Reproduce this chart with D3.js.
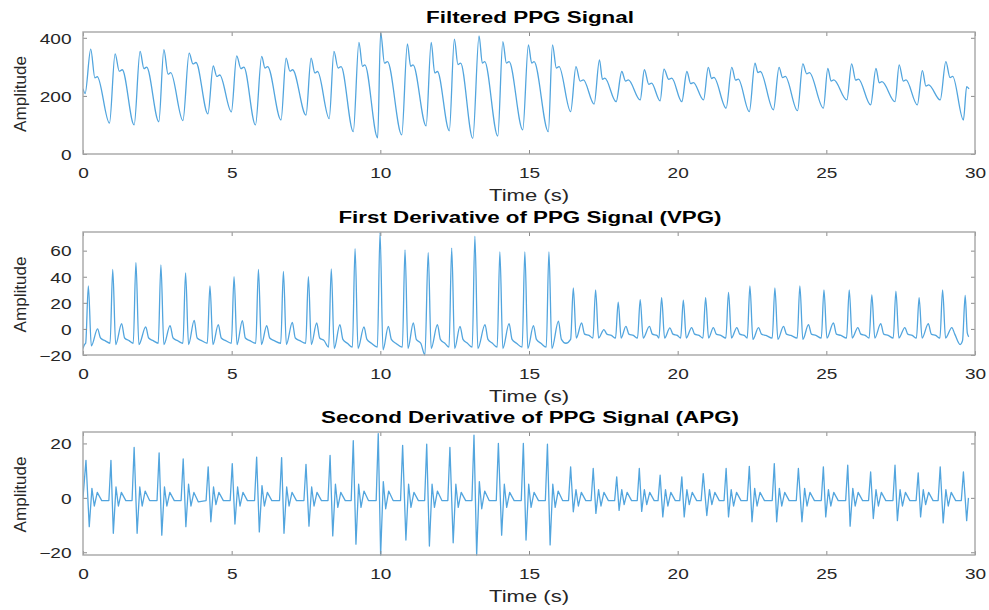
<!DOCTYPE html>
<html><head><meta charset="utf-8">
<script src="https://cdn.jsdelivr.net/npm/d3@7"></script>
<style>body{margin:0;background:#fff}</style>
</head><body>
<svg id="c" width="989" height="610"></svg>
<script>
const xTicks = [0, 5, 10, 15, 20, 25, 30];
const ppgTicks = [0, 200, 400];
const vpgTicks = [-20, 0, 20, 40, 60];
const apgTicks = [-20, 0, 20];
const titles = ["Filtered PPG Signal", "First Derivative of PPG Signal (VPG)", "Second Derivative of PPG Signal (APG)"];
const xLabel = "Time (s)";
const yLabel = "Amplitude";

// Filtered PPG: [time s, amplitude]
const ppg = [[0,225],[0.07,208],
[0.26,361],[0.40,262],[0.48,266],[0.89,106],
[1.08,345],[1.22,285],[1.32,290],[1.72,100],
[1.92,353],[2.05,294],[2.14,299],[2.55,111],
[2.72,359],[2.86,275],[2.95,280],[3.36,115],
[3.57,347],[3.70,310],[3.80,315],[4.20,138],
[4.38,303],[4.50,267],[4.60,272],[4.99,145],
[5.17,338],[5.31,294],[5.41,299],[5.80,100],
[6.01,336],[6.12,296],[6.21,301],[6.66,117],
[6.83,330],[6.96,285],[7.05,290],[7.50,134],
[7.67,330],[7.80,279],[7.89,284],[8.28,122],
[8.44,353],[8.58,296],[8.68,301],[9.09,77],
[9.28,384],[9.40,302],[9.48,307],[9.91,56],
[10.01,418],[10.14,313],[10.24,318],[10.72,66],
[10.91,379],[11.02,302],[11.10,307],[11.54,97],
[11.71,384],[11.83,279],[11.92,284],[12.32,80],
[12.49,395],[12.61,308],[12.70,313],[13.11,54],
[13.32,407],[13.43,313],[13.51,318],[13.95,62],
[14.12,387],[14.24,313],[14.33,318],[14.79,83],
[14.98,376],[15.09,313],[15.17,318],[15.65,77],
[15.79,376],[15.92,296],[16.01,301],[16.40,146],
[16.58,301],[16.72,251],[16.83,255],[17.19,172],
[17.37,324],[17.47,257],[17.55,261],[17.93,180],
[18.12,284],[18.25,251],[18.34,255],[18.74,186],
[18.88,290],[19.03,240],[19.12,244],[19.41,183],
[19.54,292],[19.70,257],[19.80,261],[20.14,180],
[20.31,284],[20.44,242],[20.53,246],[20.87,186],
[21.03,298],[21.14,260],[21.22,264],[21.63,158],
[21.82,298],[21.95,254],[22.04,258],[22.41,146],
[22.60,313],[22.70,280],[22.78,284],[23.22,152],
[23.41,298],[23.53,263],[23.62,267],[24.03,149],
[24.21,310],[24.34,276],[24.43,280],[24.90,158],
[25.05,295],[25.16,251],[25.25,255],[25.69,186],
[25.85,310],[25.99,254],[26.08,258],[26.49,169],
[26.67,295],[26.78,245],[26.87,249],[27.31,180],
[27.45,307],[27.59,251],[27.68,255],[28.06,169],
[28.23,287],[28.35,234],[28.44,238],[28.83,186],
[29.02,318],[29.16,263],[29.25,267],[29.61,117],
[29.72,232],[29.80,224]];

// First derivative (VPG)
const vpg = [[0,-15],[0.05,-12],
[0.09,-11],[0.18,33],[0.28,-13],[0.49,0],[0.59,-7],[0.74,-9],
[0.91,-11],[1.00,45.6],[1.10,-12],[1.30,4],[1.40,-7],[1.55,-9],
[1.69,-11],[1.78,51],[1.88,-12],[2.11,1.5],[2.21,-7],[2.36,-9],
[2.53,-11],[2.62,49],[2.72,-12],[2.93,2.5],[3.03,-7],[3.18,-9],
[3.36,-11],[3.45,43],[3.55,-12],[3.74,6.6],[3.84,-7],[3.99,-9],
[4.18,-11],[4.27,33],[4.37,-12],[4.55,3.3],[4.65,-7],[4.80,-9],
[4.99,-11],[5.08,40],[5.18,-12],[5.36,6.4],[5.46,-7],[5.61,-9],
[5.81,-11],[5.90,45.6],[6.00,-12],[6.18,2.5],[6.28,-7],[6.43,-9],
[6.65,-11],[6.74,44],[6.84,-12],[7.04,5],[7.14,-7],[7.29,-9],
[7.49,-11],[7.58,40],[7.68,-12],[7.86,4.6],[7.96,-7],[8.11,-9],
[8.26,-14],[8.35,46],[8.45,-15],[8.64,3.3],[8.74,-8],[8.89,-11],
[9.06,-14],[9.15,61.5],[9.25,-15],[9.45,1.5],[9.55,-8],[9.70,-11],
[9.90,-14],[9.99,74],[10.09,-16],[10.27,2],[10.37,-8],[10.52,-11],
[10.74,-14],[10.83,60.5],[10.93,-15],[11.11,4.6],[11.21,-8],[11.36,-11],
[11.50,-20],[11.61,58.5],[11.71,-15],[11.92,3.3],[12.02,-8],[12.17,-11],
[12.31,-14],[12.40,62],[12.50,-15],[12.68,2],[12.78,-8],[12.93,-11],
[13.09,-14],[13.18,71],[13.28,-15],[13.52,3.3],[13.62,-8],[13.77,-11],
[13.93,-14],[14.02,59],[14.12,-15],[14.33,4],[14.43,-8],[14.58,-11],
[14.77,-14],[14.86,59],[14.96,-15],[15.15,2.5],[15.25,-8],[15.40,-11],
[15.58,-14],[15.67,59],[15.77,-15],[15.99,6],[16.09,-8],[16.24,-11],
[16.40,-8],[16.49,31.5],[16.59,-7],[16.77,4.6],[16.87,-4],[17.02,-5],
[17.15,-7],[17.24,30],[17.34,-7],[17.52,-0.5],[17.62,-4],[17.77,-5],
[17.91,-7],[18.00,20.5],[18.10,-7],[18.26,2],[18.36,-4],[18.51,-5],
[18.65,-7],[18.74,22.5],[18.84,-7],[19.05,2],[19.15,-4],[19.30,-5],
[19.37,-7],[19.46,24],[19.56,-7],[19.74,0.8],[19.84,-4],[19.99,-5],
[20.10,-7],[20.19,22],[20.29,-7],[20.47,1],[20.57,-4],[20.72,-5],
[20.85,-7],[20.94,24],[21.04,-7],[21.20,1],[21.30,-4],[21.45,-5],
[21.62,-7],[21.71,28],[21.81,-7],[21.99,1],[22.09,-4],[22.24,-5],
[22.34,-7],[22.43,33],[22.53,-8],[22.72,1],[22.82,-4],[22.97,-5],
[23.18,-7],[23.27,31.5],[23.37,-8],[23.56,2],[23.66,-4],[23.81,-5],
[24.02,-7],[24.11,33],[24.21,-8],[24.40,3.3],[24.50,-4],[24.65,-5],
[24.83,-7],[24.92,30],[25.02,-7],[25.24,4.6],[25.34,-4],[25.49,-5],
[25.68,-7],[25.77,30],[25.87,-7],[26.06,1],[26.16,-4],[26.31,-5],
[26.44,-7],[26.53,26],[26.63,-7],[26.83,4],[26.93,-4],[27.08,-5],
[27.25,-7],[27.34,29],[27.44,-7],[27.64,1],[27.74,-4],[27.89,-5],
[28.03,-7],[28.12,24],[28.22,-7],[28.43,4],[28.53,-4],[28.68,-5],
[28.82,-7],[28.91,30],[29.01,-7],[29.22,1],[29.32,-4],[29.50,-12],
[29.58,-9],[29.67,25.6],[29.74,-3],[29.79,-6]];

// Second derivative (APG)
const apg = [[0,0],[0.10,13.8],[0.21,-10.6],[0.30,3.5],[0.38,-3],[0.48,2],[0.63,-1],
[0.87,-1],[0.94,13.8],[1.02,-13],[1.11,4],[1.19,-3],[1.29,2],[1.44,-1],
[1.65,-1],[1.72,18.5],[1.82,-13],[1.91,4],[1.99,-3],[2.09,2.5],[2.24,-1],
[2.49,-1],[2.56,16.5],[2.65,-13.7],[2.74,4],[2.82,-3],[2.92,2],[3.07,-1],
[3.30,-1],[3.37,14.3],[3.46,-10.6],[3.55,5],[3.63,-3],[3.73,2],[3.88,-1.5],
[4.14,-1],[4.21,11.4],[4.30,-8.8],[4.39,4],[4.47,-2.5],[4.57,2],[4.72,-1],
[4.95,-1],[5.02,12.6],[5.11,-9.6],[5.20,4],[5.28,-3],[5.38,2],[5.53,-1],
[5.77,-1],[5.84,15],[5.93,-12.5],[6.02,4.5],[6.10,-3],[6.20,2],[6.35,-1],
[6.61,-1],[6.68,14.8],[6.76,-13],[6.85,4],[6.93,-3],[7.03,2],[7.18,-1],
[7.43,-1],[7.50,12.3],[7.60,-10.4],[7.69,4],[7.77,-3],[7.87,2],[8.02,-1],
[8.24,-1],[8.31,15.6],[8.40,-14],[8.49,5],[8.57,-3.5],[8.67,2],[8.82,-1],
[9.02,-1],[9.09,21],[9.18,-17],[9.27,5],[9.35,-3.5],[9.45,2.5],[9.60,-1],
[9.86,-1],[9.93,23.6],[10.01,-21],[10.10,6],[10.18,-4],[10.28,2.5],[10.43,-1],
[10.68,-1],[10.75,19.3],[10.86,-15.5],[10.95,5],[11.03,-3.5],[11.13,2],[11.28,-1],
[11.49,-1],[11.56,19.7],[11.65,-17.7],[11.74,5],[11.82,-3.5],[11.92,2.5],[12.07,-1],
[12.27,-1],[12.34,18.5],[12.45,-16.5],[12.54,5],[12.62,-3.5],[12.72,2],[12.87,-1],
[13.08,-1],[13.15,23],[13.24,-21],[13.33,6],[13.41,-4],[13.51,2.5],[13.66,-1],
[13.90,-1],[13.97,20],[14.08,-13.7],[14.17,5],[14.25,-3.5],[14.35,2],[14.50,-1],
[14.74,-1],[14.81,20],[14.90,-15.5],[14.99,5],[15.07,-3.5],[15.17,2],[15.32,-1],
[15.55,-1],[15.62,19.7],[15.71,-17.3],[15.80,5],[15.88,-3.5],[15.98,2.5],[16.13,-1],
[16.33,-1],[16.40,11.4],[16.49,-5.1],[16.58,3],[16.66,-3],[16.76,2],[16.91,-1],
[17.09,-1],[17.16,10.8],[17.25,-5.7],[17.34,3],[17.42,-3],[17.52,2],[17.67,-1],
[17.88,-1],[17.95,7.7],[18.03,-4.6],[18.12,3],[18.20,-2.5],[18.30,2],[18.45,-1],
[18.64,-1],[18.71,10.8],[18.79,-5],[18.88,3],[18.96,-2.5],[19.06,2],[19.21,-1],
[19.34,-1],[19.41,8.3],[19.50,-7],[19.59,3],[19.67,-3],[19.77,2],[19.92,-1],
[20.07,-1],[20.14,7.7],[20.22,-7],[20.31,3],[20.39,-2.5],[20.49,2],[20.64,-1],
[20.79,-1],[20.86,8.9],[20.98,-6.5],[21.07,3],[21.15,-2.5],[21.25,2],[21.40,-1],
[21.56,-1],[21.63,10.8],[21.71,-7],[21.80,3],[21.88,-3],[21.98,2],[22.13,-1],
[22.34,-1],[22.41,11.6],[22.50,-8.8],[22.59,3.5],[22.67,-3],[22.77,2],[22.92,-1],
[23.18,-1],[23.25,12.6],[23.33,-8.8],[23.42,3.5],[23.50,-3],[23.60,2],[23.75,-1],
[23.99,-1],[24.06,10.8],[24.18,-8.8],[24.27,3.5],[24.35,-3],[24.45,2],[24.60,-1],
[24.83,-1],[24.90,11.4],[24.98,-7],[25.07,3],[25.15,-3],[25.25,2],[25.40,-1],
[25.65,-1],[25.72,12],[25.80,-10.4],[25.89,3.5],[25.97,-3],[26.07,2],[26.22,-1],
[26.42,-1],[26.49,9.5],[26.58,-7.6],[26.67,3],[26.75,-3],[26.85,2],[27.00,-1],
[27.24,-1],[27.31,12],[27.39,-8.4],[27.48,3],[27.56,-3],[27.66,2],[27.81,-1],
[28.02,-1],[28.09,9.2],[28.17,-7],[28.26,3],[28.34,-2.5],[28.44,2],[28.59,-1],
[28.76,-1],[28.83,11.4],[28.93,-9.2],[29.02,3],[29.10,-3],[29.20,2],[29.35,-1],
[29.54,-1],[29.61,9.5],[29.72,-8.4],[29.78,0]];

const svg = d3.select("#c");
const left = 83, right = 975;
const FONT = "'Liberation Sans', Arial, Helvetica, sans-serif";
const SX = 1.36;
const LINE = "#52a5de";

const panels = [
  {title: titles[0], data: ppg, yDomain: [0, 420], yTicks: ppgTicks, top: 32, bottom: 154, titleLen: 208, curve: d3.curveMonotoneX},
  {title: titles[1], data: vpg, yDomain: [-20, 74.3], yTicks: vpgTicks, top: 232, bottom: 355, titleLen: 383, curve: d3.curveMonotoneX},
  {title: titles[2], data: apg, yDomain: [-21, 24.2], yTicks: apgTicks, top: 432, bottom: 555, titleLen: 418, curve: d3.curveLinear}
];

const x = d3.scaleLinear().domain([0, 30]).range([left, right]);

panels.forEach((p, i) => {
  const y = d3.scaleLinear().domain(p.yDomain).range([p.bottom, p.top]);
  const g = svg.append("g");
  const clipId = "clip" + i;
  svg.append("clipPath").attr("id", clipId).append("rect")
    .attr("x", left).attr("y", p.top - 1).attr("width", right - left).attr("height", p.bottom - p.top + 2);

  g.append("rect").attr("x", left).attr("y", p.top).attr("width", right - left).attr("height", p.bottom - p.top)
    .attr("fill", "#fff");

  const line = d3.line().x(d => x(d[0])).y(d => y(d[1])).curve(p.curve);
  g.append("path").datum(p.data).attr("d", line)
    .attr("fill", "none").attr("stroke", LINE).attr("stroke-width", 1.3)
    .attr("stroke-linejoin", "round").attr("clip-path", `url(#${clipId})`);

  const styleAxis = sel => {
    sel.select(".domain").remove();
    sel.selectAll(".tick line").attr("stroke", "#8c8c8c").attr("stroke-width", 1);
  };
  const xb = g.append("g").attr("transform", `translate(0,${p.bottom})`)
    .call(d3.axisBottom(x).tickValues(xTicks).tickSize(-4).tickFormat(d3.format("d")));
  styleAxis(xb);
  xb.selectAll("text").attr("y", 24).attr("dy", 0)
    .attr("transform", `scale(${SX},1)`)
    .style("font-family", FONT).style("font-size", "14px").attr("fill", "#262626");

  const xt = g.append("g").attr("transform", `translate(0,${p.top})`)
    .call(d3.axisTop(x).tickValues(xTicks).tickSize(-4).tickFormat(""));
  styleAxis(xt);

  const yl = g.append("g").attr("transform", `translate(${left},0)`)
    .call(d3.axisLeft(y).tickValues(p.yTicks).tickSize(-4).tickFormat(d3.format("d")));
  styleAxis(yl);
  yl.selectAll("text").attr("x", -11.5 / SX).attr("dy", "0.38em")
    .attr("transform", `scale(${SX},1)`)
    .style("font-family", FONT).style("font-size", "14px").attr("fill", "#262626");

  const yr = g.append("g").attr("transform", `translate(${right},0)`)
    .call(d3.axisRight(y).tickValues(p.yTicks).tickSize(-4).tickFormat(""));
  styleAxis(yr);

  g.append("rect").attr("x", left).attr("y", p.top).attr("width", right - left).attr("height", p.bottom - p.top)
    .attr("fill", "none").attr("stroke", "#a6a6a6").attr("stroke-width", 1.4);

  g.append("text").attr("x", 530).attr("y", p.top - 9)
    .attr("text-anchor", "middle").attr("textLength", p.titleLen).attr("lengthAdjust", "spacingAndGlyphs")
    .style("font-family", FONT).style("font-size", "16px").style("font-weight", "bold").attr("fill", "#000")
    .text(p.title);

  g.append("text").attr("x", 529).attr("y", p.bottom + 46.5)
    .attr("text-anchor", "middle").attr("textLength", 80).attr("lengthAdjust", "spacingAndGlyphs")
    .style("font-family", FONT).style("font-size", "16px").attr("fill", "#262626")
    .text(xLabel);

  g.append("text").attr("transform", `translate(25.5,${(p.top + p.bottom) / 2 + 1}) rotate(-90)`)
    .attr("text-anchor", "middle").attr("textLength", 76).attr("lengthAdjust", "spacingAndGlyphs")
    .style("font-family", FONT).style("font-size", "16px").attr("fill", "#262626")
    .text(yLabel);
});
</script>
</body></html>
